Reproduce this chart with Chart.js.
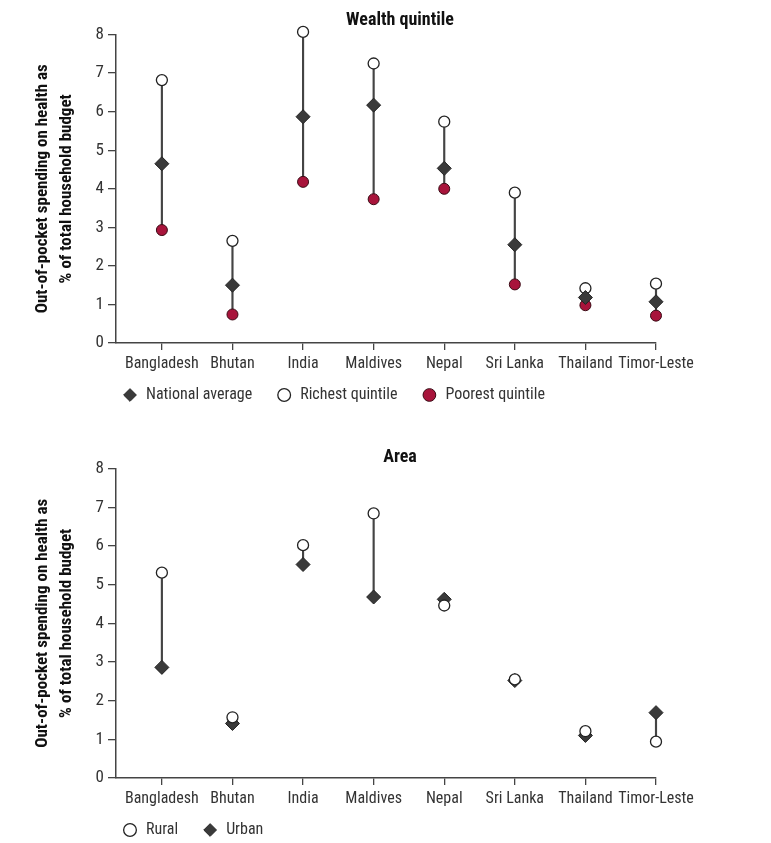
<!DOCTYPE html>
<html>
<head>
<meta charset="utf-8">
<script src="https://cdn.jsdelivr.net/npm/chart.js@4/dist/chart.umd.min.js"></script>
<style>
  html, body { margin: 0; padding: 0; background: #fff; overflow: hidden; width: 771px; height: 843px; }
  .box { position: absolute; left: 0; width: 771px; }
</style>
</head>
<body>
<div class="box" style="top:0;height:429px"><canvas id="wealthChart"></canvas></div>
<div class="box" style="top:408px;height:456px"><canvas id="areaChart"></canvas></div>
<script>
const countries = ['Bangladesh', 'Bhutan', 'India', 'Maldives', 'Nepal', 'Sri Lanka', 'Thailand', 'Timor-Leste'];

// wealth quintile panel
const nationalAvg = [4.65, 1.50, 5.87, 6.17, 4.53, 2.55, 1.18, 1.07];
const richest = [6.82, 2.65, 8.07, 7.25, 5.74, 3.90, 1.42, 1.54];
const poorest = [2.93, 0.74, 4.18, 3.73, 4.00, 1.52, 0.98, 0.71];

// area panel
const rural = [5.31, 1.57, 6.02, 6.84, 4.46, 2.55, 1.21, 0.94];
const urban = [2.86, 1.41, 5.52, 4.68, 4.62, 2.52, 1.10, 1.69];

const yTicks = [0, 1, 2, 3, 4, 5, 6, 7, 8];

const FONT = "'Roboto Condensed', 'DejaVu Sans Condensed', sans-serif";
const dark = '#3a3a3a';
const axisCol = '#444';
const red = '#a8143b';

function points(vals) {
  return vals.map((v, i) => ({x: i, y: v}));
}
function spans(a, b) {
  return a.map((v, i) => ({x: i, y: [Math.min(v, b[i]), Math.max(v, b[i])]}));
}

const diamond = {pointStyle: 'rectRot', pointRadius: 7, pointHoverRadius: 7, clip: false,
  backgroundColor: dark, borderColor: '#222', borderWidth: 1};
const openCircle = {pointStyle: 'circle', pointRadius: 5.5, pointHoverRadius: 5.5, clip: false,
  backgroundColor: '#fff', borderColor: '#222', borderWidth: 1.3};
const redCircle = {pointStyle: 'circle', pointRadius: 5.5, pointHoverRadius: 5.5, clip: false,
  backgroundColor: red, borderColor: '#3a0a14', borderWidth: 1};

// legend just under the tick labels, title centred like the original
const place = {
  id: 'place',
  afterLayout(chart) {
    const lg = chart.legend;
    const dy = chart.chartArea.bottom + 20 - lg.top;
    lg.top += dy; lg.bottom += dy;
    lg.left -= 18; lg.right -= 18;
    const t = chart.titleBlock;
    t.left += 72; t.right += 72;
  }
};

function makeOptions(title, titleTop, titleBottom) {
  return {
    responsive: true,
    maintainAspectRatio: false,
    animation: false,
    layout: {padding: {left: 0, right: 115, top: 0, bottom: 0}},
    plugins: {
      title: {
        display: true, text: title, color: '#111',
        font: {family: FONT, size: 18, weight: 'bold'},
        padding: {top: titleTop, bottom: titleBottom}
      },
      legend: {
        position: 'bottom', align: 'start', fullSize: false,
        labels: {
          usePointStyle: true, boxWidth: 16, boxHeight: 9, padding: 24,
          color: '#333', font: {family: FONT, size: 16},
          filter: item => item.text !== ''
        }
      },
      tooltip: {enabled: false}
    },
    scales: {
      x: {
        type: 'linear', min: -0.65, max: 7, offset: false,
        afterBuildTicks: s => { s.ticks = countries.map((c, i) => ({value: i})); },
        afterFit: s => { s.height = 36; },
        ticks: {
          color: '#333', font: {family: FONT, size: 16}, padding: 4, autoSkip: false,
          maxRotation: 0, callback: v => countries[v]
        },
        grid: {display: true, drawOnChartArea: false, offset: false, tickLength: 7, color: axisCol, lineWidth: 1.3},
        border: {display: true, color: axisCol, width: 1.5}
      },
      y: {
        min: 0, max: 8,
        afterBuildTicks: s => { s.ticks = yTicks.map(v => ({value: v})); },
        afterFit: s => { s.width = 116; },
        ticks: {color: '#333', font: {family: FONT, size: 17}, padding: 4},
        grid: {display: true, drawOnChartArea: false, tickLength: 8, color: axisCol, lineWidth: 1.3},
        border: {display: true, color: axisCol, width: 1.5},
        title: {
          display: true, color: '#111',
          text: ['Out-of-pocket spending on health as', '% of total household budget'],
          font: {family: FONT, size: 17, weight: 'bold', lineHeight: 1.45},
          padding: {top: 30, bottom: 0}
        }
      }
    }
  };
}

new Chart(document.getElementById('wealthChart'), {
  type: 'scatter',
  data: {
    datasets: [
      Object.assign({label: 'National average', data: points(nationalAvg), order: 0}, diamond),
      Object.assign({label: 'Richest quintile', data: points(richest), order: 1}, openCircle),
      Object.assign({label: 'Poorest quintile', data: points(poorest), order: 2}, redCircle),
      {type: 'bar', label: '', data: spans(richest, poorest), order: 9, clip: false,
        backgroundColor: axisCol, borderWidth: 0, barThickness: 1.5}
    ]
  },
  options: makeOptions('Wealth quintile', 10, 3),
  plugins: [place]
});

new Chart(document.getElementById('areaChart'), {
  type: 'scatter',
  data: {
    datasets: [
      Object.assign({label: 'Rural', data: points(rural), order: 0}, openCircle),
      Object.assign({label: 'Urban', data: points(urban), order: 1}, diamond),
      {type: 'bar', label: '', data: spans(rural, urban), order: 9, clip: false,
        backgroundColor: axisCol, borderWidth: 0, barThickness: 1.5}
    ]
  },
  options: makeOptions('Area', 39, 0),
  plugins: [place]
});
</script>
</body>
</html>
